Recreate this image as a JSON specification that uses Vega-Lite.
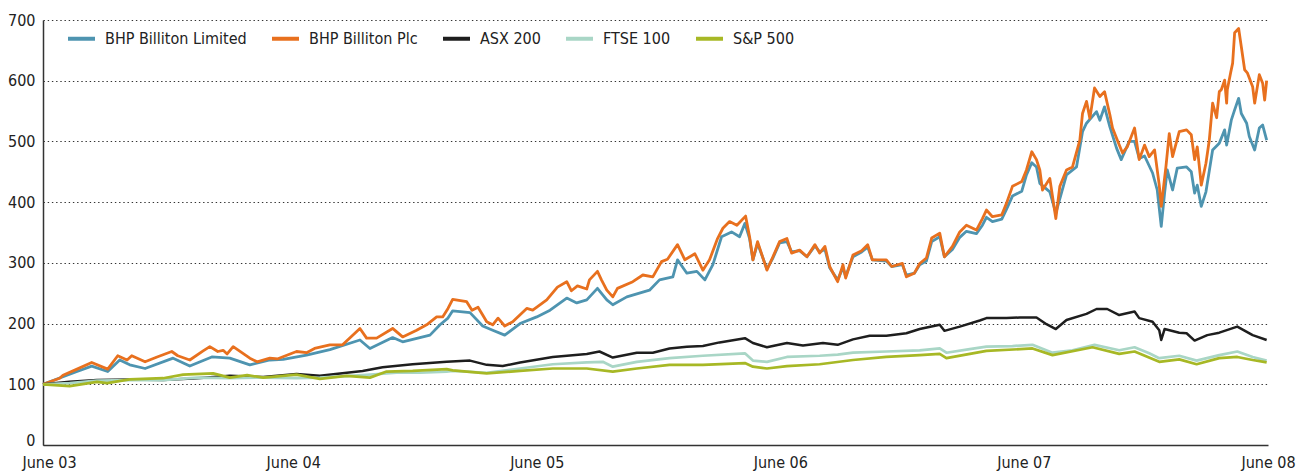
{
  "$schema": "https://vega.github.io/schema/vega-lite/v6.json",
  "width": 1225,
  "height": 425,
  "autosize": {"type": "none"},
  "padding": {"left": 43, "top": 20, "right": 36, "bottom": 27},
  "background": "white",
  "config": {
    "view": {"stroke": null},
    "font": "DejaVu Sans Condensed, Liberation Sans, sans-serif",
    "axis": {
      "labelFont": "DejaVu Sans Condensed, Liberation Sans, sans-serif",
      "labelFontSize": 16,
      "labelColor": "#222222",
      "domainColor": "#333333",
      "domainWidth": 1.5,
      "ticks": false,
      "title": null
    }
  },
  "datasets": {
    "ltd": [{"d":"2003-05-23","v":100},{"d":"2003-07-13","v":121},{"d":"2003-08-04","v":130},{"d":"2003-08-28","v":121},{"d":"2003-09-15","v":140},{"d":"2003-09-30","v":132},{"d":"2003-10-23","v":126},{"d":"2003-12-04","v":143},{"d":"2003-12-29","v":130},{"d":"2004-01-31","v":145},{"d":"2004-02-27","v":143},{"d":"2004-03-28","v":132},{"d":"2004-04-27","v":140},{"d":"2004-05-17","v":141},{"d":"2004-06-21","v":148},{"d":"2004-07-26","v":157},{"d":"2004-09-09","v":173},{"d":"2004-09-24","v":159},{"d":"2004-10-28","v":177},{"d":"2004-11-12","v":170},{"d":"2004-12-23","v":181},{"d":"2005-01-07","v":198},{"d":"2005-01-19","v":209},{"d":"2005-01-26","v":221},{"d":"2005-02-21","v":218},{"d":"2005-03-12","v":196},{"d":"2005-03-27","v":189},{"d":"2005-04-14","v":181},{"d":"2005-05-07","v":200},{"d":"2005-06-01","v":211},{"d":"2005-06-21","v":222},{"d":"2005-07-16","v":242},{"d":"2005-07-31","v":234},{"d":"2005-08-15","v":239},{"d":"2005-08-31","v":258},{"d":"2005-09-14","v":239},{"d":"2005-09-23","v":231},{"d":"2005-10-14","v":244},{"d":"2005-11-17","v":255},{"d":"2005-12-02","v":272},{"d":"2005-12-22","v":277},{"d":"2005-12-29","v":305},{"d":"2006-01-12","v":283},{"d":"2006-01-27","v":286},{"d":"2006-02-08","v":272},{"d":"2006-02-20","v":297},{"d":"2006-03-05","v":343},{"d":"2006-03-20","v":351},{"d":"2006-04-01","v":343},{"d":"2006-04-09","v":365},{"d":"2006-04-16","v":340},{"d":"2006-04-21","v":305},{"d":"2006-04-28","v":332},{"d":"2006-05-12","v":290},{"d":"2006-05-21","v":308},{"d":"2006-05-31","v":333},{"d":"2006-06-11","v":335},{"d":"2006-06-18","v":318},{"d":"2006-06-30","v":320},{"d":"2006-07-11","v":310},{"d":"2006-07-23","v":328},{"d":"2006-07-30","v":318},{"d":"2006-08-07","v":322},{"d":"2006-08-14","v":292},{"d":"2006-08-26","v":272},{"d":"2006-09-03","v":292},{"d":"2006-09-07","v":278},{"d":"2006-09-18","v":310},{"d":"2006-10-01","v":318},{"d":"2006-10-10","v":326},{"d":"2006-10-17","v":305},{"d":"2006-11-07","v":303},{"d":"2006-11-15","v":294},{"d":"2006-12-01","v":297},{"d":"2006-12-07","v":280},{"d":"2006-12-19","v":283},{"d":"2006-12-27","v":297},{"d":"2007-01-06","v":303},{"d":"2007-01-14","v":335},{"d":"2007-01-26","v":343},{"d":"2007-02-02","v":310},{"d":"2007-02-14","v":322},{"d":"2007-02-25","v":342},{"d":"2007-03-07","v":352},{"d":"2007-03-22","v":348},{"d":"2007-03-31","v":362},{"d":"2007-04-06","v":375},{"d":"2007-04-15","v":368},{"d":"2007-04-29","v":372},{"d":"2007-05-06","v":388},{"d":"2007-05-15","v":410},{"d":"2007-05-29","v":418},{"d":"2007-06-05","v":445},{"d":"2007-06-13","v":465},{"d":"2007-06-20","v":458},{"d":"2007-06-25","v":431},{"d":"2007-07-10","v":417},{"d":"2007-07-19","v":382},{"d":"2007-08-04","v":445},{"d":"2007-08-19","v":458},{"d":"2007-08-28","v":516},{"d":"2007-09-03","v":530},{"d":"2007-09-18","v":549},{"d":"2007-09-23","v":535},{"d":"2007-09-30","v":557},{"d":"2007-10-08","v":524},{"d":"2007-10-18","v":489},{"d":"2007-10-25","v":470},{"d":"2007-11-06","v":500},{"d":"2007-11-14","v":500},{"d":"2007-11-21","v":472},{"d":"2007-11-29","v":476},{"d":"2007-12-11","v":448},{"d":"2007-12-18","v":420},{"d":"2007-12-24","v":360},{"d":"2007-12-29","v":415},{"d":"2008-01-02","v":453},{"d":"2008-01-10","v":420},{"d":"2008-01-17","v":456},{"d":"2008-01-31","v":458},{"d":"2008-02-07","v":450},{"d":"2008-02-12","v":415},{"d":"2008-02-16","v":428},{"d":"2008-02-22","v":393},{"d":"2008-02-29","v":417},{"d":"2008-03-10","v":486},{"d":"2008-03-20","v":497},{"d":"2008-03-28","v":519},{"d":"2008-03-31","v":494},{"d":"2008-04-07","v":535},{"d":"2008-04-12","v":552},{"d":"2008-04-18","v":571},{"d":"2008-04-22","v":546},{"d":"2008-04-30","v":530},{"d":"2008-05-04","v":508},{"d":"2008-05-12","v":486},{"d":"2008-05-19","v":522},{"d":"2008-05-24","v":527},{"d":"2008-05-30","v":502}],
    "plc": [{"d":"2003-05-23","v":100},{"d":"2003-06-17","v":110},{"d":"2003-06-22","v":115},{"d":"2003-07-13","v":125},{"d":"2003-08-04","v":136},{"d":"2003-08-28","v":125},{"d":"2003-09-12","v":147},{"d":"2003-09-26","v":140},{"d":"2003-10-03","v":147},{"d":"2003-10-23","v":137},{"d":"2003-11-10","v":145},{"d":"2003-12-02","v":154},{"d":"2003-12-11","v":147},{"d":"2003-12-29","v":140},{"d":"2004-01-18","v":155},{"d":"2004-01-28","v":162},{"d":"2004-02-09","v":154},{"d":"2004-02-17","v":156},{"d":"2004-02-23","v":150},{"d":"2004-03-03","v":162},{"d":"2004-03-28","v":143},{"d":"2004-04-08","v":137},{"d":"2004-04-27","v":143},{"d":"2004-05-09","v":142},{"d":"2004-06-06","v":154},{"d":"2004-06-21","v":152},{"d":"2004-07-03","v":159},{"d":"2004-07-26","v":165},{"d":"2004-08-14","v":165},{"d":"2004-09-09","v":192},{"d":"2004-09-19","v":176},{"d":"2004-10-04","v":176},{"d":"2004-10-28","v":192},{"d":"2004-11-12","v":178},{"d":"2004-12-03","v":189},{"d":"2004-12-18","v":198},{"d":"2005-01-02","v":211},{"d":"2005-01-11","v":211},{"d":"2005-01-19","v":225},{"d":"2005-01-26","v":240},{"d":"2005-02-16","v":236},{"d":"2005-02-24","v":222},{"d":"2005-03-05","v":227},{"d":"2005-03-12","v":214},{"d":"2005-03-18","v":203},{"d":"2005-03-27","v":198},{"d":"2005-04-04","v":209},{"d":"2005-04-14","v":196},{"d":"2005-04-26","v":203},{"d":"2005-05-17","v":225},{"d":"2005-05-26","v":222},{"d":"2005-06-16","v":239},{"d":"2005-07-02","v":260},{"d":"2005-07-16","v":269},{"d":"2005-07-23","v":254},{"d":"2005-08-01","v":262},{"d":"2005-08-15","v":257},{"d":"2005-08-19","v":272},{"d":"2005-08-31","v":286},{"d":"2005-09-06","v":272},{"d":"2005-09-14","v":255},{"d":"2005-09-23","v":244},{"d":"2005-09-30","v":258},{"d":"2005-10-23","v":269},{"d":"2005-11-07","v":280},{"d":"2005-11-22","v":277},{"d":"2005-12-05","v":302},{"d":"2005-12-14","v":306},{"d":"2005-12-29","v":330},{"d":"2006-01-09","v":305},{"d":"2006-01-24","v":315},{"d":"2006-02-05","v":288},{"d":"2006-02-15","v":305},{"d":"2006-02-27","v":340},{"d":"2006-03-07","v":357},{"d":"2006-03-17","v":368},{"d":"2006-03-28","v":362},{"d":"2006-04-10","v":377},{"d":"2006-04-16","v":343},{"d":"2006-04-21","v":305},{"d":"2006-04-28","v":335},{"d":"2006-05-12","v":288},{"d":"2006-05-21","v":310},{"d":"2006-05-31","v":335},{"d":"2006-06-11","v":340},{"d":"2006-06-18","v":316},{"d":"2006-06-30","v":321},{"d":"2006-07-11","v":310},{"d":"2006-07-23","v":330},{"d":"2006-07-30","v":316},{"d":"2006-08-07","v":327},{"d":"2006-08-14","v":294},{"d":"2006-08-26","v":269},{"d":"2006-09-03","v":297},{"d":"2006-09-07","v":275},{"d":"2006-09-18","v":313},{"d":"2006-10-01","v":320},{"d":"2006-10-10","v":330},{"d":"2006-10-17","v":305},{"d":"2006-11-07","v":305},{"d":"2006-11-15","v":294},{"d":"2006-12-01","v":299},{"d":"2006-12-07","v":277},{"d":"2006-12-19","v":283},{"d":"2006-12-27","v":299},{"d":"2007-01-06","v":308},{"d":"2007-01-14","v":341},{"d":"2007-01-26","v":349},{"d":"2007-02-02","v":310},{"d":"2007-02-14","v":327},{"d":"2007-02-25","v":351},{"d":"2007-03-07","v":362},{"d":"2007-03-22","v":354},{"d":"2007-03-31","v":373},{"d":"2007-04-06","v":387},{"d":"2007-04-15","v":376},{"d":"2007-04-29","v":379},{"d":"2007-05-06","v":398},{"d":"2007-05-15","v":426},{"d":"2007-05-29","v":434},{"d":"2007-06-05","v":453},{"d":"2007-06-13","v":483},{"d":"2007-06-20","v":470},{"d":"2007-06-25","v":453},{"d":"2007-06-29","v":420},{"d":"2007-07-10","v":439},{"d":"2007-07-19","v":373},{"d":"2007-07-25","v":426},{"d":"2007-08-04","v":453},{"d":"2007-08-13","v":458},{"d":"2007-08-24","v":502},{"d":"2007-08-28","v":546},{"d":"2007-09-03","v":566},{"d":"2007-09-08","v":538},{"d":"2007-09-15","v":588},{"d":"2007-09-23","v":574},{"d":"2007-09-30","v":582},{"d":"2007-10-08","v":544},{"d":"2007-10-12","v":522},{"d":"2007-10-20","v":500},{"d":"2007-10-27","v":481},{"d":"2007-11-03","v":491},{"d":"2007-11-14","v":522},{"d":"2007-11-21","v":470},{"d":"2007-11-29","v":494},{"d":"2007-12-06","v":475},{"d":"2007-12-14","v":486},{"d":"2007-12-21","v":428},{"d":"2007-12-24","v":393},{"d":"2007-12-31","v":458},{"d":"2008-01-05","v":513},{"d":"2008-01-10","v":475},{"d":"2008-01-20","v":516},{"d":"2008-01-31","v":519},{"d":"2008-02-07","v":511},{"d":"2008-02-12","v":470},{"d":"2008-02-16","v":491},{"d":"2008-02-22","v":428},{"d":"2008-02-29","v":464},{"d":"2008-03-05","v":502},{"d":"2008-03-10","v":563},{"d":"2008-03-16","v":539},{"d":"2008-03-20","v":582},{"d":"2008-03-23","v":585},{"d":"2008-03-28","v":601},{"d":"2008-03-31","v":563},{"d":"2008-04-01","v":585},{"d":"2008-04-06","v":613},{"d":"2008-04-09","v":629},{"d":"2008-04-12","v":679},{"d":"2008-04-18","v":686},{"d":"2008-04-22","v":656},{"d":"2008-04-27","v":618},{"d":"2008-05-01","v":613},{"d":"2008-05-09","v":590},{"d":"2008-05-12","v":563},{"d":"2008-05-19","v":610},{"d":"2008-05-24","v":596},{"d":"2008-05-27","v":568},{"d":"2008-05-30","v":600}],
    "asx": [{"d":"2003-05-23","v":100},{"d":"2003-07-02","v":104},{"d":"2003-08-12","v":107},{"d":"2003-09-30","v":108},{"d":"2003-11-19","v":107},{"d":"2004-01-09","v":110},{"d":"2004-02-27","v":114},{"d":"2004-04-17","v":112},{"d":"2004-06-06","v":117},{"d":"2004-07-11","v":114},{"d":"2004-09-13","v":122},{"d":"2004-10-13","v":128},{"d":"2004-11-27","v":133},{"d":"2005-01-17","v":137},{"d":"2005-02-21","v":139},{"d":"2005-03-18","v":132},{"d":"2005-04-11","v":130},{"d":"2005-05-07","v":136},{"d":"2005-06-25","v":145},{"d":"2005-08-15","v":150},{"d":"2005-09-03","v":154},{"d":"2005-09-23","v":144},{"d":"2005-10-29","v":152},{"d":"2005-11-22","v":152},{"d":"2005-12-17","v":159},{"d":"2006-01-12","v":162},{"d":"2006-02-05","v":163},{"d":"2006-03-02","v":169},{"d":"2006-04-09","v":176},{"d":"2006-04-21","v":168},{"d":"2006-05-12","v":161},{"d":"2006-06-11","v":168},{"d":"2006-07-05","v":164},{"d":"2006-08-04","v":168},{"d":"2006-08-26","v":165},{"d":"2006-09-18","v":174},{"d":"2006-10-13","v":180},{"d":"2006-11-07","v":180},{"d":"2006-12-07","v":184},{"d":"2006-12-27","v":191},{"d":"2007-01-26","v":198},{"d":"2007-02-02","v":188},{"d":"2007-02-25","v":195},{"d":"2007-03-27","v":205},{"d":"2007-04-06","v":209},{"d":"2007-05-06","v":209},{"d":"2007-05-26","v":210},{"d":"2007-06-20","v":210},{"d":"2007-07-05","v":199},{"d":"2007-07-19","v":191},{"d":"2007-08-04","v":206},{"d":"2007-09-03","v":216},{"d":"2007-09-18","v":224},{"d":"2007-10-04","v":224},{"d":"2007-10-22","v":214},{"d":"2007-11-14","v":220},{"d":"2007-11-21","v":209},{"d":"2007-12-11","v":203},{"d":"2007-12-21","v":189},{"d":"2007-12-24","v":173},{"d":"2007-12-29","v":191},{"d":"2008-01-20","v":185},{"d":"2008-01-31","v":184},{"d":"2008-02-12","v":172},{"d":"2008-03-02","v":181},{"d":"2008-03-20","v":185},{"d":"2008-04-16","v":195},{"d":"2008-05-09","v":181},{"d":"2008-05-30","v":173}],
    "ftse": [{"d":"2003-05-23","v":100},{"d":"2003-07-02","v":102},{"d":"2003-08-12","v":106},{"d":"2003-09-30","v":107},{"d":"2003-11-19","v":107},{"d":"2004-01-09","v":111},{"d":"2004-02-27","v":110},{"d":"2004-04-17","v":111},{"d":"2004-06-06","v":110},{"d":"2004-07-11","v":111},{"d":"2004-09-13","v":115},{"d":"2004-11-03","v":119},{"d":"2004-12-08","v":119},{"d":"2005-01-17","v":121},{"d":"2005-01-26","v":122},{"d":"2005-03-18","v":119},{"d":"2005-05-07","v":126},{"d":"2005-06-25","v":133},{"d":"2005-08-15","v":136},{"d":"2005-09-08","v":137},{"d":"2005-09-23","v":129},{"d":"2005-10-29","v":137},{"d":"2005-12-17","v":143},{"d":"2006-02-05","v":147},{"d":"2006-04-09","v":151},{"d":"2006-04-21","v":139},{"d":"2006-05-12","v":137},{"d":"2006-06-11","v":145},{"d":"2006-07-30","v":147},{"d":"2006-08-26","v":149},{"d":"2006-09-18","v":152},{"d":"2006-11-07","v":154},{"d":"2006-12-27","v":156},{"d":"2007-01-26","v":159},{"d":"2007-02-05","v":152},{"d":"2007-03-12","v":158},{"d":"2007-04-06","v":162},{"d":"2007-05-15","v":163},{"d":"2007-06-14","v":165},{"d":"2007-07-14","v":152},{"d":"2007-08-13","v":156},{"d":"2007-09-15","v":165},{"d":"2007-10-22","v":156},{"d":"2007-11-14","v":161},{"d":"2007-12-06","v":151},{"d":"2007-12-21","v":143},{"d":"2008-01-20","v":147},{"d":"2008-02-15","v":139},{"d":"2008-03-20","v":148},{"d":"2008-04-16","v":154},{"d":"2008-05-09","v":145},{"d":"2008-05-30","v":139}],
    "sp": [{"d":"2003-05-23","v":100},{"d":"2003-07-02","v":97},{"d":"2003-08-12","v":104},{"d":"2003-08-27","v":102},{"d":"2003-09-30","v":108},{"d":"2003-11-19","v":110},{"d":"2003-12-19","v":116},{"d":"2004-02-02","v":118},{"d":"2004-02-27","v":111},{"d":"2004-03-24","v":115},{"d":"2004-04-17","v":111},{"d":"2004-06-06","v":116},{"d":"2004-07-11","v":109},{"d":"2004-08-20","v":114},{"d":"2004-09-24","v":111},{"d":"2004-10-19","v":121},{"d":"2004-11-27","v":122},{"d":"2005-01-17","v":125},{"d":"2005-01-26","v":123},{"d":"2005-03-18","v":118},{"d":"2005-05-07","v":122},{"d":"2005-06-25","v":126},{"d":"2005-08-15","v":126},{"d":"2005-09-23","v":121},{"d":"2005-10-29","v":126},{"d":"2005-12-17","v":132},{"d":"2006-02-05","v":132},{"d":"2006-04-09","v":135},{"d":"2006-04-21","v":129},{"d":"2006-05-12","v":126},{"d":"2006-06-11","v":130},{"d":"2006-07-30","v":133},{"d":"2006-09-18","v":140},{"d":"2006-11-07","v":145},{"d":"2006-12-27","v":148},{"d":"2007-01-26","v":150},{"d":"2007-02-05","v":143},{"d":"2007-04-06","v":155},{"d":"2007-06-14","v":159},{"d":"2007-07-14","v":148},{"d":"2007-09-12","v":161},{"d":"2007-10-22","v":150},{"d":"2007-11-14","v":154},{"d":"2007-12-21","v":137},{"d":"2008-01-20","v":141},{"d":"2008-02-15","v":133},{"d":"2008-03-20","v":143},{"d":"2008-04-16","v":145},{"d":"2008-05-09","v":140},{"d":"2008-05-30","v":136}]
  },
  "encoding": {
    "x": {
      "field": "d",
      "type": "temporal",
      "scale": {
        "type": "utc",
        "domain": [
          {"year": 2003, "month": 5, "date": 23, "utc": true},
          {"year": 2008, "month": 6, "date": 1, "utc": true}
        ]
      },
      "axis": {
        "values": [
          {"year": 2003, "month": 6, "date": 1, "utc": true},
          {"year": 2004, "month": 6, "date": 1, "utc": true},
          {"year": 2005, "month": 6, "date": 1, "utc": true},
          {"year": 2006, "month": 6, "date": 1, "utc": true},
          {"year": 2007, "month": 6, "date": 1, "utc": true},
          {"year": 2008, "month": 6, "date": 1, "utc": true}
        ],
        "format": "June %y",
        "labelPadding": 9,
        "labelFlush": false,
        "labelOverlap": false,
        "grid": false
      }
    },
    "y": {
      "field": "v",
      "type": "quantitative",
      "scale": {"domain": [0, 700], "nice": false, "zero": true},
      "axis": {
        "values": [0, 100, 200, 300, 400, 500, 600, 700],
        "labelPadding": 8,
        "labelBaseline": {"condition": {"test": "datum.value === 0", "value": "alphabetic"}, "value": "middle"},
        "grid": true,
        "gridColor": "#333333",
        "gridDash": [1.4, 2.8],
        "gridWidth": 1.2
      }
    }
  },
  "layer": [
    {
      "data": {"name": "ltd"},
      "mark": {"type": "line", "strokeWidth": 2.8, "strokeJoin": "round"},
      "encoding": {
        "color": {
          "datum": "BHP Billiton Limited",
          "type": "nominal",
          "scale": {
            "domain": ["BHP Billiton Limited", "BHP Billiton Plc", "ASX 200", "FTSE 100", "S&P 500"],
            "range": ["#4e94b0", "#e8701e", "#1e1e1e", "#a9d6c6", "#a7b825"]
          },
          "legend": {
            "orient": "none",
            "legendX": 23,
            "legendY": 3,
            "direction": "horizontal",
            "columns": 5,
            "title": null,
            "symbolType": "stroke",
            "symbolSize": 729,
            "symbolStrokeWidth": 4,
            "labelFont": "DejaVu Sans Condensed, Liberation Sans, sans-serif",
            "labelFontSize": 16,
            "labelColor": "#222222",
            "labelOffset": 8,
            "labelLimit": 400,
            "columnPadding": 17,
            "padding": 0
          }
        }
      }
    },
    {
      "data": {"name": "plc"},
      "mark": {"type": "line", "strokeWidth": 2.8, "strokeJoin": "round"},
      "encoding": {"color": {"datum": "BHP Billiton Plc", "type": "nominal"}}
    },
    {
      "data": {"name": "asx"},
      "mark": {"type": "line", "strokeWidth": 2.5, "strokeJoin": "round"},
      "encoding": {"color": {"datum": "ASX 200", "type": "nominal"}}
    },
    {
      "data": {"name": "ftse"},
      "mark": {"type": "line", "strokeWidth": 2.7, "strokeJoin": "round"},
      "encoding": {"color": {"datum": "FTSE 100", "type": "nominal"}}
    },
    {
      "data": {"name": "sp"},
      "mark": {"type": "line", "strokeWidth": 2.7, "strokeJoin": "round"},
      "encoding": {"color": {"datum": "S&P 500", "type": "nominal"}}
    }
  ]
}
